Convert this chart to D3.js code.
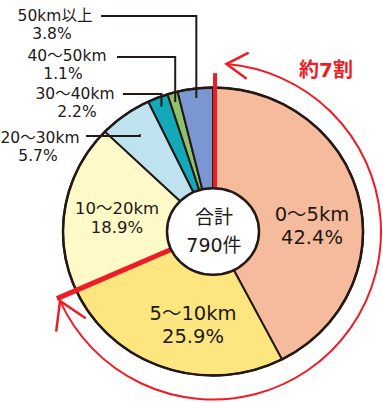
<!DOCTYPE html>
<html>
<head>
<meta charset="utf-8">
<script src="https://cdn.jsdelivr.net/npm/d3@7"></script>
<style>
  body { margin: 0; background: #fff; }
  svg { display: block; font-family: "DejaVu Sans", "Noto Sans CJK JP", sans-serif; }
</style>
</head>
<body>
<svg id="chart" width="383" height="403"></svg>
<script>
// data
var categories = ["0〜5km", "5〜10km", "10〜20km", "20〜30km", "30〜40km", "40〜50km", "50km以上"];
var shares = [42.4, 25.9, 18.9, 5.7, 2.2, 1.1, 3.8];
var sliceColors = ["#f6bb9c", "#fde57f", "#fffac8", "#bfe3ee", "#13a9b9", "#8dc46b", "#7b97d2"];
var totalLabel = ["合計", "790件"];
var noteLabel = "約7割";

var svg = d3.select("#chart"),
    cx = 213, cy = 231.5,
    radius = 150, squash = 0.96,
    innerR = 46,
    ink = "#231815",
    red = "#ee1c25";

var rows = categories.map(function (c, i) {
    return {name: c, value: shares[i], color: sliceColors[i]};
});

var pie = d3.pie().sort(null).value(function (d) { return d.value; });
var arcs = pie(rows);
var arc = d3.arc().innerRadius(0).outerRadius(radius);
var pct = function (v) { return d3.format(".1f")(v) + "%"; };

// point on the (slightly squashed) pie, angle measured clockwise from top
var at = function (angle, r) {
    return [cx + r * Math.sin(angle), cy - r * Math.cos(angle) * squash];
};

var label = function (x, y, size, txt, color) {
    return svg.append("text")
        .attr("x", x).attr("y", y)
        .attr("text-anchor", "middle")
        .attr("dominant-baseline", "central")
        .attr("font-size", size)
        .attr("fill", color || ink)
        .text(txt);
};

var pieG = svg.append("g")
    .attr("transform", "translate(" + cx + "," + cy + ") scale(1," + squash + ")");

pieG.selectAll("path")
    .data(arcs)
    .enter()
    .append("path")
    .attr("d", arc)
    .attr("fill", function (d) { return d.data.color; })
    .attr("stroke", ink)
    .attr("stroke-width", 2)
    .attr("stroke-linejoin", "round");

pieG.append("circle")
    .attr("r", radius)
    .attr("fill", "none")
    .attr("stroke", ink)
    .attr("stroke-width", 2.5);

// leader lines for the small slices
var outside = [
    {i: 6, tx: 55, ty: 16, px: 52, py: 34, line: [101, 16], r: 140},
    {i: 5, tx: 67, ty: 56, px: 63, py: 74, line: [117, 57], r: 140},
    {i: 4, tx: 75, ty: 94, px: 77, py: 112, line: [123, 94], r: 140},
    {i: 3, tx: 40, ty: 138, px: 38, py: 156, line: [86, 136], r: 125}
];

outside.forEach(function (o) {
    var a = arcs[o.i],
        mid = (a.startAngle + a.endAngle) / 2,
        p = at(mid, o.r);
    var path = d3.path();
    path.moveTo(o.line[0], o.line[1]);
    path.lineTo(p[0], o.line[1]);
    path.lineTo(p[0], p[1]);
    svg.append("path")
        .attr("d", path.toString())
        .attr("fill", "none")
        .attr("stroke", ink)
        .attr("stroke-width", 2);

    label(o.tx, o.ty, 15.5, a.data.name);
    label(o.px, o.py, 15.5, pct(a.data.value));
});

// red markers: boundaries of the "about 70%" share
var cut = arcs[1].endAngle;
var p0 = at(0, innerR), p1 = at(0, 165);
svg.append("line")
    .attr("x1", p0[0] + 2).attr("y1", p0[1])
    .attr("x2", p1[0] + 2).attr("y2", p1[1])
    .attr("stroke", red).attr("stroke-width", 4);
var q0 = at(cut, innerR), q1 = at(cut, 171);
svg.append("line")
    .attr("x1", q0[0]).attr("y1", q0[1])
    .attr("x2", q1[0]).attr("y2", q1[1])
    .attr("stroke", red).attr("stroke-width", 5);

// double-headed arc round the share
var ringR = 168,
    a0 = 0.08, a1 = cut - 0.005;
var ring = d3.path();
ring.arc(cx, cy, ringR, a0 - Math.PI / 2, a1 - Math.PI / 2, false);
svg.append("path")
    .attr("d", ring.toString())
    .attr("fill", "none")
    .attr("stroke", red)
    .attr("stroke-width", 2);

var head = function (angle, dir, len) {
    var tip = [cx + ringR * Math.sin(angle), cy - ringR * Math.cos(angle)],
        tx = Math.cos(angle) * dir, ty = Math.sin(angle) * dir,   // tangent pointing away from the arc
        spread = 0.55;
    var pts = [-spread, spread].map(function (s) {
        var bx = -tx, by = -ty;
        return [tip[0] + len * (bx * Math.cos(s) - by * Math.sin(s)),
                tip[1] + len * (bx * Math.sin(s) + by * Math.cos(s))];
    });
    svg.append("path")
        .attr("d", "M" + pts[0] + "L" + tip + "L" + pts[1])
        .attr("fill", "none")
        .attr("stroke", red)
        .attr("stroke-width", 2.5);
};
head(a0, -1, 25);
head(a1, 1, 31);

label(326, 70, 20, noteLabel, red).attr("font-weight", "bold");

// centre disc
svg.append("ellipse")
    .attr("cx", cx).attr("cy", cy)
    .attr("rx", innerR).attr("ry", innerR * 0.94)
    .attr("fill", "#fff")
    .attr("stroke", ink)
    .attr("stroke-width", 2.5);

label(cx + 1, 217, 19, totalLabel[0]);
label(cx + 1, 245, 19, totalLabel[1]);

// labels inside the big slices
var inside = [
    {i: 0, x: 312, y: 214, size: 19.5, gap: 23},
    {i: 1, x: 193, y: 313, size: 19.5, gap: 23},
    {i: 2, x: 117, y: 208, size: 16.5, gap: 19.5}
];
inside.forEach(function (o) {
    var d = arcs[o.i].data;
    label(o.x, o.y, o.size, d.name);
    label(o.x, o.y + o.gap, o.size, pct(d.value));
});
</script>
</body>
</html>
